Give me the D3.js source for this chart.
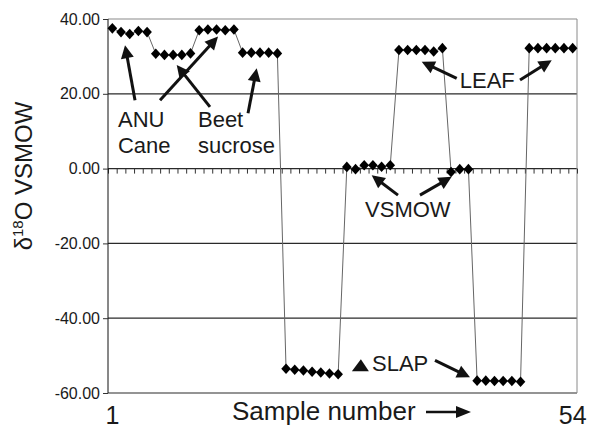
<!DOCTYPE html>
<html>
<head>
<meta charset="utf-8">
<script src="https://cdn.jsdelivr.net/npm/d3@7"></script>
<style>
  body { margin: 0; background: #fff; }
  text { font-family: Arial, "Liberation Sans", sans-serif; fill: #1a1a1a; }
</style>
</head>
<body>
<div class="chart"></div>
<script>
// sample numbers along the run
const samples = d3.range(1, 55);

// delta 18O values, one per sample
const delta18O = [
  37.5, 36.5, 36.0, 36.8, 36.5,          // ANU
  30.7, 30.4, 30.4, 30.4, 30.8,          // beet
  37.0, 37.2, 37.2, 37.0, 37.2,          // cane
  31.0, 31.0, 31.0, 31.0, 30.8,          // beet
  -53.5, -53.8, -54.0, -54.3, -54.5, -54.8, -55.0,   // SLAP
  0.45, -0.15, 0.9, 0.9, 0.5, 0.9,       // VSMOW
  31.7, 31.7, 31.7, 31.7, 31.3, 32.2,    // LEAF
  -0.9, -0.15, -0.15,                    // VSMOW
  -56.7, -56.7, -56.8, -56.8, -56.8, -57.0,  // SLAP
  32.2, 32.2, 32.2, 32.2, 32.2, 32.2     // LEAF
];

const yTicks = [40, 20, 0, -20, -40, -60];
const xTickLabels = [1, 54];

// annotation labels and arrows, in data units (sample, value)
const notes = [
  {text: "ANU", s: 1.65, v: 11.1},
  {text: "Cane", s: 1.65, v: 4.1},
  {text: "Beet", s: 10.86, v: 11.1},
  {text: "sucrose", s: 10.86, v: 4.1},
  {text: "LEAF", s: 41.0, v: 21.5},
  {text: "VSMOW", s: 30.1, v: -12.9},
  {text: "SLAP", s: 30.9, v: -54.0}
];
const arrows = [
  [3.61, 18.3, 2.46, 33.0],
  [6.49, 18.3, 13.17, 35.3],
  [12.24, 16.5, 8.41, 27.7],
  [16.62, 14.8, 17.62, 26.8],
  [40.65, 24.1, 36.62, 28.6],
  [47.94, 23.7, 51.59, 29.0],
  [33.89, -7.1, 30.86, -1.8],
  [36.42, -7.1, 40.07, -2.2],
  [38.15, -51.3, 42.18, -55.8]
];

const margin = {top: 19, left: 108};
const width = 469, height = 374;

const svg = d3.select(".chart").append("svg")
    .attr("width", 589)
    .attr("height", 428);

const g = svg.append("g")
    .attr("transform", `translate(${margin.left},${margin.top})`);

const x = d3.scaleLinear().domain([0.5, 54.5]).range([0, width]);
const y = d3.scaleLinear().domain([-60, 40]).range([height, 0]);

// horizontal gridlines
g.selectAll(".grid")
  .data(yTicks)
  .enter().append("line")
    .attr("x1", 0).attr("x2", width)
    .attr("y1", d => y(d)).attr("y2", d => y(d))
    .attr("stroke", d => d === 40 ? "#8a8a8a" : "#2a2a2a")
    .attr("stroke-width", 1.2);

// right border
g.append("line")
  .attr("x1", width).attr("x2", width)
  .attr("y1", 0).attr("y2", height)
  .attr("stroke", "#8a8a8a");

// category ticks on the zero line
const xAxis = d3.axisBottom(x)
  .tickValues(d3.range(0.5, 55, 1))
  .tickSize(5)
  .tickFormat("");
g.append("g")
  .attr("transform", `translate(0,${y(0)})`)
  .call(xAxis)
  .call(a => a.select(".domain").remove())
  .selectAll("line").attr("stroke", "#333");

// y axis
const yAxis = d3.axisLeft(y)
  .tickValues(yTicks)
  .tickSize(5)
  .tickPadding(3)
  .tickFormat(d => d.toFixed(2));
g.append("g")
  .call(yAxis)
  .call(a => a.select(".domain").attr("stroke", "#111").attr("d", `M0,0V${height}`))
  .call(a => a.selectAll("line").attr("stroke", "#333"))
  .selectAll("text")
    .style("font-size", "16px")
    .attr("fill", "#1a1a1a");

// connecting line
const line = d3.line()
  .x((d, i) => x(samples[i]))
  .y(d => y(d));
g.append("path")
  .datum(delta18O)
  .attr("d", line)
  .attr("fill", "none")
  .attr("stroke", "#666")
  .attr("stroke-width", 1);

// diamond markers
g.selectAll(".pt")
  .data(delta18O)
  .enter().append("path")
    .attr("class", "pt")
    .attr("d", "M0,-5.3L4.8,0L0,5.3L-4.8,0Z")
    .attr("transform", (d, i) => `translate(${x(samples[i])},${y(d)})`)
    .attr("fill", "#000");

// x tick labels
g.selectAll(".xlab")
  .data(xTickLabels)
  .enter().append("text")
    .attr("x", d => x(d))
    .attr("y", 405)
    .attr("text-anchor", "middle")
    .style("font-size", "25px")
    .text(d => d);

// x title with arrow
g.append("text")
  .attr("x", 124)
  .attr("y", 401)
  .style("font-size", "26px")
  .text("Sample number");

function drawArrow(parent, x1, y1, x2, y2, head, halfW, sw) {
  const ang = Math.atan2(y2 - y1, x2 - x1);
  const bx = x2 - head * Math.cos(ang), by = y2 - head * Math.sin(ang);
  parent.append("line")
    .attr("x1", x1).attr("y1", y1)
    .attr("x2", bx + Math.cos(ang)).attr("y2", by + Math.sin(ang))
    .attr("stroke", "#111").attr("stroke-width", sw);
  const px = -Math.sin(ang) * halfW, py = Math.cos(ang) * halfW;
  parent.append("path")
    .attr("d", `M${x2},${y2}L${bx + px},${by + py}L${bx - px},${by - py}Z`)
    .attr("fill", "#111");
}

drawArrow(g, 318, 393, 363, 393, 15, 6, 2.5);

// y title
const yt = svg.append("text")
  .attr("transform", "translate(32,176) rotate(-90)")
  .attr("text-anchor", "middle")
  .style("font-size", "24px");
yt.append("tspan").text("δ");
yt.append("tspan").attr("dy", -9).style("font-size", "15px").text("18");
yt.append("tspan").attr("dy", 9).text("O VSMOW");

// annotations
g.selectAll(".note")
  .data(notes)
  .enter().append("text")
    .attr("x", d => x(d.s))
    .attr("y", d => y(d.v))
    .style("font-size", "22px")
    .text(d => d.text);

arrows.forEach(a => drawArrow(g, x(a[0]), y(a[1]), x(a[2]), y(a[3]), 13, 6.5, 3));

// lone arrow head next to SLAP
const tri = {s: 29.5, v: -52.6};
g.append("path")
  .attr("transform", `translate(${x(tri.s)},${y(tri.v)})`)
  .attr("d", "M1,-6L9,6L-8,6Z")
  .attr("fill", "#111");
</script>
</body>
</html>
